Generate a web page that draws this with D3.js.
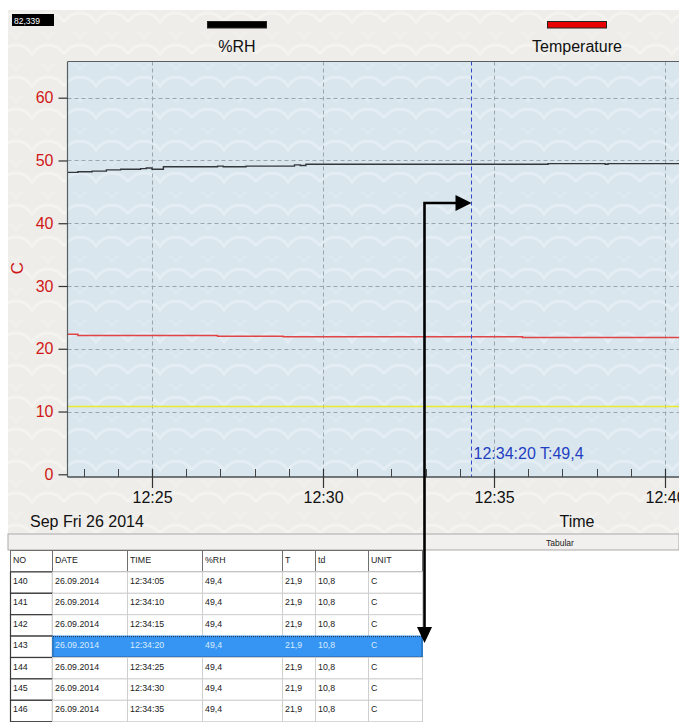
<!DOCTYPE html>
<html>
<head>
<meta charset="utf-8">
<script src="https://cdn.jsdelivr.net/npm/d3@7"></script>
<style>
  html, body { margin: 0; padding: 0; background: #fff; }
  svg { display: block; font-family: "Liberation Sans", Arial, sans-serif; }
</style>
</head>
<body>
<svg id="chart" width="679" height="722"></svg>
<script>
// ---- data ----
const yTicks = [0, 10, 20, 30, 40, 50, 60];
const xMajorTicks = ["12:25", "12:30", "12:35", "12:40"];
const dateLabel = "Sep Fri 26 2014";
const counterLabel = "82,339";

// %RH readings (step changes of the logger)
const rhTimes  = ["12:22:30","12:22:50","12:23:15","12:23:40","12:24:05","12:24:40","12:24:50","12:25:00","12:25:20","12:26:55","12:27:05","12:27:45","12:29:10","12:29:20","12:29:30","12:36:35","12:38:15","12:38:20","12:38:55","12:40:15","12:40:30"];
const rhValues = [48.1, 48.2, 48.3, 48.5, 48.6, 48.7, 48.8, 48.6, 49.0, 49.1, 49.0, 49.1, 49.3, 49.2, 49.4, 49.5, 49.4, 49.5, 49.5, 49.5, 49.5];

// Temperature readings
const tempTimes  = ["12:22:30","12:22:50","12:26:55","12:28:50","12:35:50","12:40:30"];
const tempValues = [22.3, 22.1, 22.0, 21.9, 21.8, 21.8];

// Dew point (td)
const dewTimes  = ["12:22:30","12:40:30"];
const dewValues = [10.8, 10.8];

// cursor
const cursorTime = "12:34:20";
const cursorValue = 49.4;

// table
const tableColumns = ["NO", "DATE", "TIME", "%RH", "T", "td", "UNIT"];
const tableNo   = [140, 141, 142, 143, 144, 145, 146];
const tableDate = ["26.09.2014","26.09.2014","26.09.2014","26.09.2014","26.09.2014","26.09.2014","26.09.2014"];
const tableTime = ["12:34:05","12:34:10","12:34:15","12:34:20","12:34:25","12:34:30","12:34:35"];
const tableRH   = ["49,4","49,4","49,4","49,4","49,4","49,4","49,4"];
const tableT    = ["21,9","21,9","21,9","21,9","21,9","21,9","21,9"];
const tableTd   = ["10,8","10,8","10,8","10,8","10,8","10,8","10,8"];
const tableUnit = ["C","C","C","C","C","C","C"];
const selectedNo = 143;

// ---- setup ----
const svg = d3.select("#chart");
const W = 679, H = 722;
const parseT = s => d3.timeParse("%Y-%m-%d %H:%M:%S")("2014-09-26 " + (s.length === 5 ? s + ":00" : s));

const plot = { left: 67.5, top: 61.5, right: 679, bottom: 477 };

const x = d3.scaleTime()
  .domain([parseT("12:25"), parseT("12:40")])
  .range([152, 665]);
const y = d3.scaleLinear().domain([0, 60]).range([474.3, 97.7]);

const defs = svg.append("defs");
function wavePattern(id, bg, stroke, op) {
  const p = defs.append("pattern").attr("id", id)
    .attr("width", 64).attr("height", 32).attr("patternUnits", "userSpaceOnUse");
  p.append("rect").attr("width", 64).attr("height", 32).attr("fill", bg);
  p.append("path")
    .attr("d", "M0,22 C8,10 24,10 32,22 C40,10 56,10 64,22")
    .attr("fill", "none").attr("stroke", stroke).attr("stroke-opacity", op).attr("stroke-width", 3);
  p.append("path")
    .attr("d", "M-16,6 C-8,-6 8,-6 16,6 C24,-6 40,-6 48,6 C56,-6 72,-6 80,6")
    .attr("fill", "none").attr("stroke", stroke).attr("stroke-opacity", op * 0.6).attr("stroke-width", 2);
}
wavePattern("outerTex", "#eeede9", "#fbfbf9", 0.45);
wavePattern("plotTex", "#d9e6ee", "#e9f2f7", 0.6);

defs.append("clipPath").attr("id", "plotClip")
  .append("rect").attr("x", plot.left).attr("y", plot.top)
  .attr("width", plot.right - plot.left).attr("height", plot.bottom - plot.top);

// outer panel
svg.append("rect").attr("x", 0).attr("y", 0).attr("width", W).attr("height", H).attr("fill", "#fff");
svg.append("rect").attr("x", 8).attr("y", 10).attr("width", W - 8).attr("height", 524).attr("fill", "url(#outerTex)");

// counter box
svg.append("rect").attr("x", 12).attr("y", 14).attr("width", 42).attr("height", 12).attr("fill", "#000");
svg.append("text").attr("x", 14).attr("y", 23.5).attr("fill", "#fff")
  .attr("font-size", 8.5).text(counterLabel);

// legend
const legend = [
  { name: "%RH", color: "#000", cx: 237 },
  { name: "Temperature", color: "#e80000", cx: 577 }
];
legend.forEach(l => {
  svg.append("rect").attr("x", l.cx - 29.5).attr("y", 21.5).attr("width", 59).attr("height", 6.5)
    .attr("fill", l.color).attr("stroke", "#222").attr("stroke-width", 1);
  svg.append("text").attr("x", l.cx).attr("y", 51.5).attr("text-anchor", "middle")
    .attr("font-size", 16).attr("fill", "#111").text(l.name);
});

// plot area
svg.append("rect").attr("x", plot.left).attr("y", plot.top)
  .attr("width", plot.right - plot.left).attr("height", plot.bottom - plot.top)
  .attr("fill", "url(#plotTex)");

const gPlot = svg.append("g").attr("clip-path", "url(#plotClip)");

// grid
gPlot.selectAll(".hgrid").data(yTicks.filter(d => d > 0)).join("line")
  .attr("x1", plot.left).attr("x2", plot.right)
  .attr("y1", d => Math.round(y(d)) + 0.5).attr("y2", d => Math.round(y(d)) + 0.5)
  .attr("stroke", "#9aa5ac").attr("stroke-width", 1).attr("stroke-dasharray", "4,3");
gPlot.selectAll(".vgrid").data(xMajorTicks.map(parseT)).join("line")
  .attr("x1", d => Math.round(x(d)) + 0.5).attr("x2", d => Math.round(x(d)) + 0.5)
  .attr("y1", plot.top).attr("y2", plot.bottom)
  .attr("stroke", "#9aa5ac").attr("stroke-width", 1).attr("stroke-dasharray", "4,3");

// series
const stepLine = d3.line().curve(d3.curveStepAfter).x(d => x(d.t)).y(d => y(d.v));
function series(times, values) { return times.map((t, i) => ({ t: parseT(t), v: values[i] })); }

gPlot.append("path").datum(series(dewTimes, dewValues)).attr("d", stepLine)
  .attr("fill", "none").attr("stroke", "#e8ec2a").attr("stroke-width", 1.3);
gPlot.append("path").datum(series(tempTimes, tempValues)).attr("d", stepLine)
  .attr("fill", "none").attr("stroke", "#e04444").attr("stroke-width", 1.5);
gPlot.append("path").datum(series(rhTimes, rhValues)).attr("d", stepLine)
  .attr("fill", "none").attr("stroke", "#33373b").attr("stroke-width", 1.4);

// cursor
const cx = Math.round(x(parseT(cursorTime))) + 0.5;
gPlot.append("line").attr("x1", cx).attr("x2", cx).attr("y1", plot.top).attr("y2", plot.bottom)
  .attr("stroke", "#3348c8").attr("stroke-width", 1).attr("stroke-dasharray", "4,3");
svg.append("text").attr("x", cx + 2).attr("y", 459).attr("font-size", 16).attr("fill", "#1f3fc2")
  .text(`${cursorTime} T:${d3.format(".1f")(cursorValue).replace(".", ",")}`);

// frame
svg.append("line").attr("x1", plot.left).attr("x2", plot.right).attr("y1", plot.top).attr("y2", plot.top)
  .attr("stroke", "#5a5f63").attr("stroke-width", 1.2);
svg.append("line").attr("x1", plot.left).attr("x2", plot.left).attr("y1", plot.top).attr("y2", plot.bottom)
  .attr("stroke", "#5a5f63").attr("stroke-width", 1.2);
svg.append("line").attr("x1", plot.left).attr("x2", plot.right).attr("y1", plot.bottom).attr("y2", plot.bottom)
  .attr("stroke", "#4a4f53").attr("stroke-width", 1.6);

// minute ticks
const minutes = d3.timeMinute.range(x.invert(plot.left), x.invert(plot.right));
svg.append("g").selectAll("line").data(minutes).join("line")
  .attr("x1", d => Math.round(x(d)) + 0.5).attr("x2", d => Math.round(x(d)) + 0.5)
  .attr("y1", 469).attr("y2", plot.bottom)
  .attr("stroke", "#444").attr("stroke-width", 1);

// major x axis
const xAxis = d3.axisBottom(x).tickValues(xMajorTicks.map(parseT))
  .tickFormat(d3.timeFormat("%H:%M")).tickSizeInner(19).tickSizeOuter(0).tickPadding(4);
const gx = svg.append("g").attr("transform", "translate(0,469)").call(xAxis);
gx.select(".domain").remove();
gx.selectAll(".tick line").attr("stroke", "#333").attr("stroke-width", 1.2);
gx.selectAll(".tick text").attr("font-size", 16).attr("fill", "#111")
  .attr("font-family", "Liberation Sans, Arial, sans-serif");

// y axis
const yAxis = d3.axisLeft(y).tickValues(yTicks).tickSizeInner(9).tickSizeOuter(0).tickPadding(5);
const gy = svg.append("g").attr("transform", `translate(${plot.left},0)`).call(yAxis);
gy.select(".domain").remove();
gy.selectAll(".tick line").attr("stroke", "#333").attr("stroke-width", 1.2);
gy.selectAll(".tick text").attr("font-size", 16).attr("fill", "#d01818")
  .attr("font-family", "Liberation Sans, Arial, sans-serif");

svg.append("text").attr("transform", "translate(23,268) rotate(-90)")
  .attr("text-anchor", "middle").attr("font-size", 17).attr("fill", "#d01818").text("C");

svg.append("text").attr("x", 30).attr("y", 527).attr("font-size", 16).attr("fill", "#111").text(dateLabel);
svg.append("text").attr("x", 577).attr("y", 527).attr("text-anchor", "middle")
  .attr("font-size", 16).attr("fill", "#111").text("Time");

// "Tabular" strip
svg.append("rect").attr("x", 8).attr("y", 534).attr("width", W - 8).attr("height", 16)
  .attr("fill", "#f1f0ee").attr("stroke", "#a9a9a9").attr("stroke-width", 1);
svg.append("text").attr("x", 560).attr("y", 546).attr("text-anchor", "middle")
  .attr("font-size", 8.5).attr("fill", "#222").text("Tabular");

// table
const colX = [10, 52, 127, 202, 282, 315, 368, 422];
const headTop = 550.5, rowH = 21.4;
const rows = tableNo.map((n, i) => [String(n), tableDate[i], tableTime[i], tableRH[i], tableT[i], tableTd[i], tableUnit[i]]);
const gT = svg.append("g").attr("font-size", 8.8).attr("font-family", "Liberation Sans, Arial, sans-serif");

// header row
tableColumns.forEach((c, j) => {
  gT.append("rect").attr("x", colX[j] + 0.5).attr("y", headTop).attr("width", colX[j + 1] - colX[j]).attr("height", rowH)
    .attr("fill", "#fff").attr("stroke", "#6f6f6f").attr("stroke-width", 1);
  gT.append("text").attr("x", colX[j] + 3).attr("y", headTop + 12).attr("fill", "#222").text(c);
});
rows.forEach((r, i) => {
  const top = headTop + rowH * (i + 1);
  const sel = tableNo[i] === selectedNo;
  r.forEach((v, j) => {
    const isNo = j === 0;
    gT.append("rect").attr("x", colX[j] + 0.5).attr("y", top).attr("width", colX[j + 1] - colX[j]).attr("height", rowH)
      .attr("fill", sel && !isNo ? "#3694f2" : "#fff")
      .attr("stroke", isNo ? "#3a3a3a" : (sel ? "#3694f2" : "#cfcfcf")).attr("stroke-width", isNo ? 1.2 : 1);
  });
  if (sel) {
    gT.append("rect").attr("x", colX[1] + 1).attr("y", top + 0.5).attr("width", colX[7] - colX[1] - 1).attr("height", rowH - 1)
      .attr("fill", "none").attr("stroke", "#1d3550").attr("stroke-width", 1).attr("stroke-dasharray", "1,1");
  }
  r.forEach((v, j) => {
    gT.append("text").attr("x", colX[j] + 3).attr("y", top + 12)
      .attr("fill", sel && j > 0 ? "#d6ecff" : "#222").text(v);
  });
});

// pointer arrow from the selected row up to the cursor
const ax = 424.5, ay = 203;
const selTop = headTop + rowH * (tableNo.indexOf(selectedNo) + 1);
svg.append("path")
  .attr("d", `M${ax},${selTop - 8} L${ax},${ay} L${cx - 15},${ay}`)
  .attr("fill", "none").attr("stroke", "#000").attr("stroke-width", 2.6);
svg.append("path")
  .attr("d", `M${cx},${ay} L${cx - 16},${ay - 8} L${cx - 16},${ay + 8} Z`).attr("fill", "#000");
svg.append("path")
  .attr("d", `M${ax},${selTop + 7} L${ax - 7.5},${selTop - 9} L${ax + 7.5},${selTop - 9} Z`).attr("fill", "#000");
</script>
</body>
</html>
